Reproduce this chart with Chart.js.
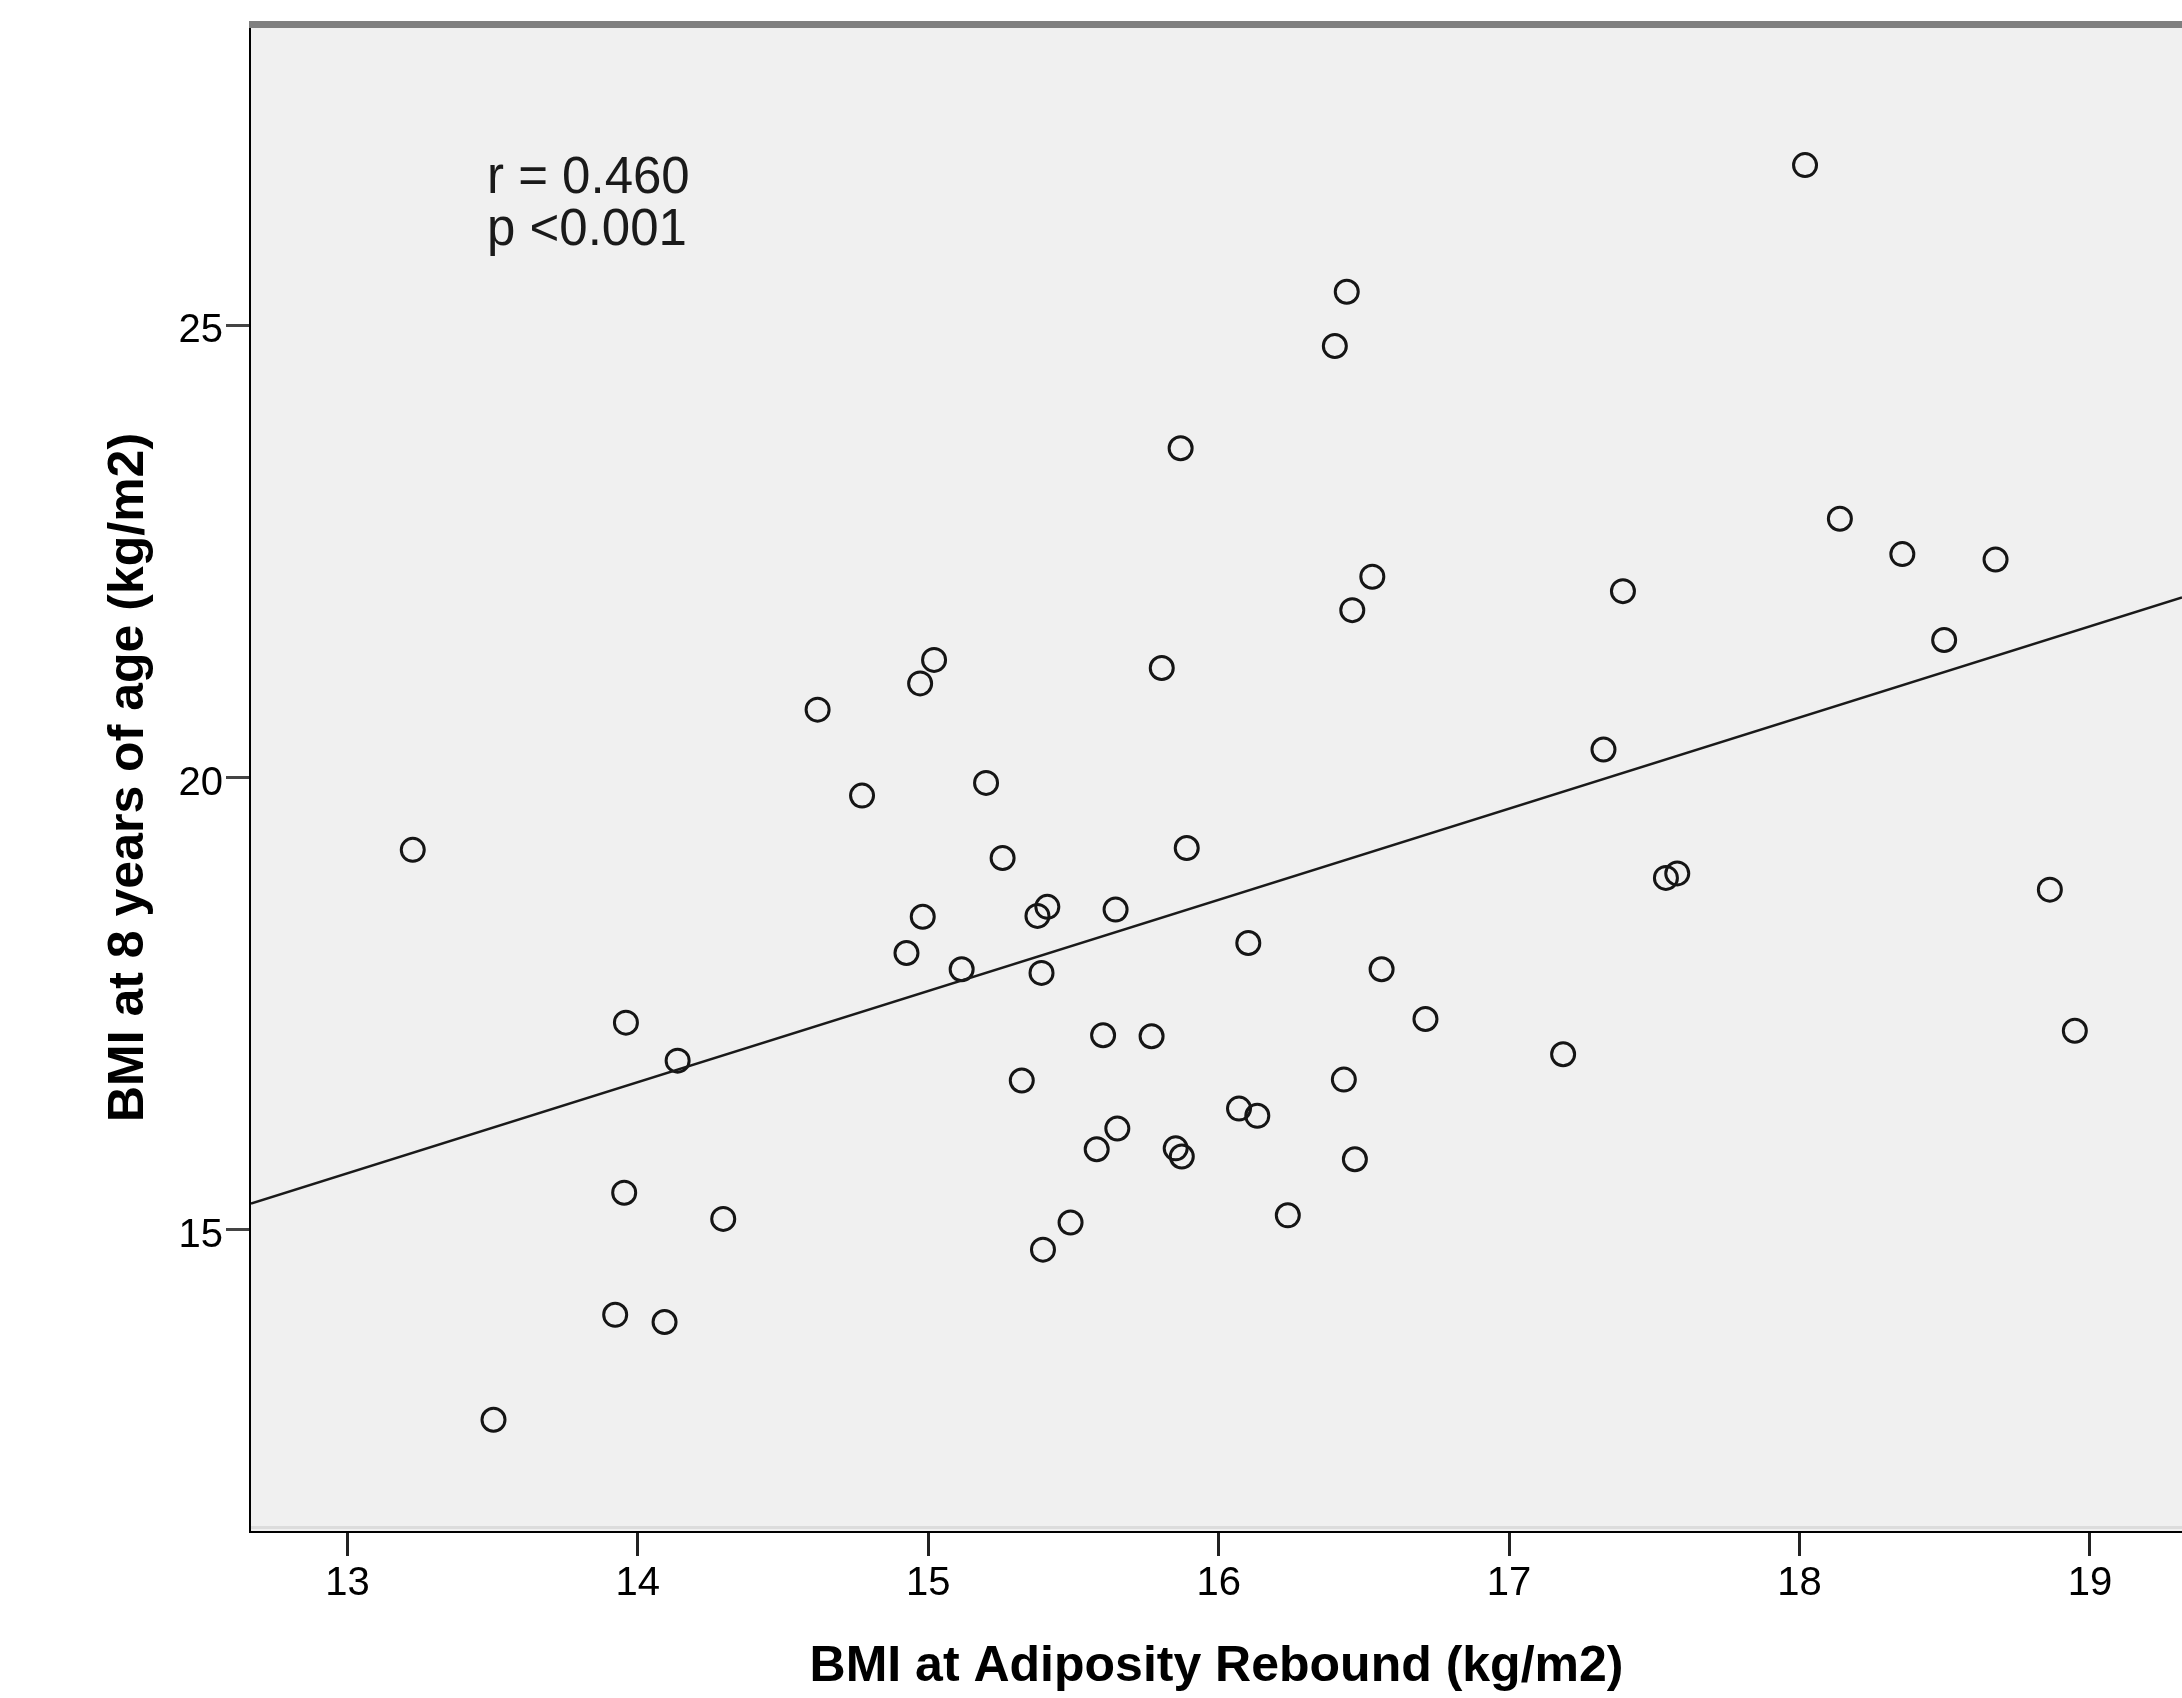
<!DOCTYPE html>
<html>
<head>
<meta charset="utf-8">
<script src="https://cdn.jsdelivr.net/npm/chart.js@4.4.1/dist/chart.umd.min.js"></script>
<style>
  html, body { margin: 0; padding: 0; background: #ffffff; overflow: hidden; }
  #wrap { width: 2182px; height: 1698px; overflow: hidden; }
  canvas { display: block; }
</style>
</head>
<body>
<div id="wrap"><canvas id="c" width="2182" height="1698"></canvas></div>
<script>
// BMI at adiposity rebound (x) vs BMI at 8 years of age (y)
const bmiRebound = [13.225, 13.503, 13.959, 14.137, 13.953, 13.922, 14.092, 14.294, 14.619, 14.772,
  14.972, 15.020, 14.925, 14.981, 15.115, 15.199, 15.256, 15.376, 15.410, 15.390,
  15.322, 15.395, 15.490, 15.580, 15.602, 15.645, 15.651, 15.769, 15.804, 15.869,
  15.890, 15.852, 15.873, 16.102, 16.070, 16.133, 16.238, 16.400, 16.441, 16.460,
  16.529, 16.431, 16.469, 16.561, 16.712, 17.186, 17.325, 17.392, 17.540, 17.579,
  18.019, 18.139, 18.354, 18.498, 18.675, 18.862, 18.948];
const bmiAge8 = [19.20, 12.90, 17.29, 16.87, 15.41, 14.06, 13.98, 15.12, 20.75, 19.80,
  21.04, 21.30, 18.06, 18.46, 17.88, 19.94, 19.11, 18.47, 18.57, 17.84,
  16.65, 14.78, 15.08, 15.89, 17.15, 18.54, 16.12, 17.14, 21.21, 23.64,
  19.22, 15.90, 15.81, 18.17, 16.34, 16.26, 15.16, 24.77, 25.37, 21.85,
  22.22, 16.66, 15.78, 17.88, 17.33, 16.94, 20.31, 22.06, 18.89, 18.94,
  26.77, 22.86, 22.47, 21.52, 22.41, 18.76, 17.20];
// Fitted regression line endpoints
const fitX = [12.668, 19.317];
const fitY = [15.29, 21.99];
// Axis ticks and ranges
const xTicks = [13, 14, 15, 16, 17, 18, 19];
const yTicks = [15, 20, 25];
const xRange = [12.668, 19.317];
const yRange = [11.67, 28.33];
const annotationLines = ['r = 0.460', 'p <0.001'];
const xTitle = 'BMI at Adiposity Rebound (kg/m2)';
const yTitle = 'BMI at 8 years of age (kg/m2)';

const FONT = "'Liberation Sans', Arial, Helvetica, sans-serif";

const points = bmiRebound.map((x, i) => ({ x: x, y: bmiAge8[i] }));
const fitPoints = fitX.map((x, i) => ({ x: x, y: fitY[i] }));

const framePlugin = {
  id: 'frame',
  beforeDatasetsDraw(chart) {
    const { ctx, chartArea: a } = chart;
    ctx.save();
    ctx.fillStyle = '#f0f0f0';
    ctx.fillRect(a.left, a.top, a.right - a.left, a.bottom - a.top);
    ctx.fillStyle = '#dcdcdc';
    ctx.fillRect(a.left, a.bottom - 5, a.right - a.left, 3);
    ctx.restore();
  },
  afterDraw(chart) {
    const { ctx, chartArea: a } = chart;
    ctx.save();
    // top frame line
    ctx.fillStyle = '#7f7f7f';
    ctx.fillRect(a.left - 2, a.top - 3, a.right - a.left + 2, 7);
    // annotation text
    ctx.fillStyle = '#1a1a1a';
    ctx.font = '51px ' + FONT;
    ctx.textAlign = 'left';
    ctx.textBaseline = 'alphabetic';
    ctx.fillText(annotationLines[0], a.left + 236, a.top + 169);
    ctx.fillText(annotationLines[1], a.left + 236, a.top + 221);
    ctx.restore();
  }
};

new Chart(document.getElementById('c'), {
  data: {
    datasets: [
      {
        type: 'line',
        data: fitPoints,
        borderColor: '#1a1a1a',
        borderWidth: 2.5,
        pointRadius: 0,
        fill: false,
        tension: 0
      },
      {
        type: 'scatter',
        data: points,
        pointStyle: 'circle',
        pointRadius: 11.5,
        pointBorderWidth: 3,
        pointBorderColor: '#151515',
        pointBackgroundColor: 'rgba(0,0,0,0)'
      }
    ]
  },
  options: {
    responsive: false,
    animation: false,
    devicePixelRatio: 1,
    layout: { autoPadding: false, padding: { top: 24, right: 0, bottom: 0, left: 0 } },
    plugins: {
      legend: { display: false },
      tooltip: { enabled: false }
    },
    scales: {
      x: {
        type: 'linear',
        min: xRange[0],
        max: xRange[1],
        afterBuildTicks: (s) => { s.ticks = xTicks.map(v => ({ value: v })); },
        afterFit: (s) => { s.height = 167; s.paddingLeft = 0; s.paddingRight = 0; },
        grid: {
          drawOnChartArea: false,
          drawTicks: true,
          tickLength: 25,
          tickColor: '#222',
          tickWidth: 3
        },
        border: { display: true, color: '#000', width: 4 },
        ticks: {
          color: '#000',
          padding: 4,
          maxRotation: 0,
          font: { family: FONT, size: 40 },
          callback: (v) => String(v)
        },
        title: {
          display: true,
          text: xTitle,
          color: '#000',
          font: { family: FONT, size: 50, weight: 'bold' },
          padding: { top: 0, bottom: 1 }
        }
      },
      y: {
        type: 'linear',
        min: yRange[0],
        max: yRange[1],
        afterBuildTicks: (s) => { s.ticks = yTicks.map(v => ({ value: v })); },
        afterFit: (s) => { s.width = 251; s.paddingTop = 0; s.paddingBottom = 0; },
        grid: {
          drawOnChartArea: false,
          drawTicks: true,
          tickLength: 25,
          tickColor: '#444',
          tickWidth: 3
        },
        border: { display: true, color: '#000', width: 3.5 },
        ticks: {
          color: '#000',
          padding: 3,
          labelOffset: 6,
          font: { family: FONT, size: 40 },
          callback: (v) => String(v)
        },
        title: {
          display: true,
          text: yTitle,
          color: '#000',
          font: { family: FONT, size: 50, weight: 'bold' },
          padding: { top: 99, bottom: 0 }
        }
      }
    }
  },
  plugins: [framePlugin]
});
</script>
</body>
</html>
